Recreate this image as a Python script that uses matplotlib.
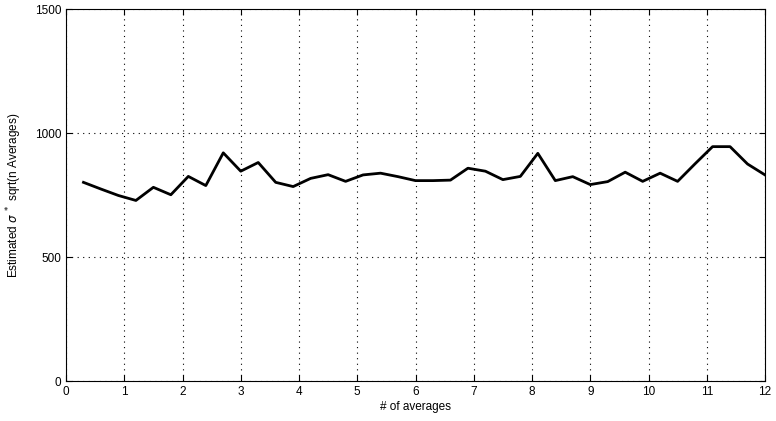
import numpy as np
import matplotlib
matplotlib.use("Agg")
import matplotlib.pyplot as plt

plt.rcParams['font.family'] = ['Liberation Sans', 'DejaVu Sans']

n_avg = [0.3, 0.6, 0.9, 1.2, 1.5, 1.8, 2.1, 2.4, 2.7, 3.0,
         3.3, 3.6, 3.9, 4.2, 4.5, 4.8, 5.1, 5.4, 5.7, 6.0,
         6.3, 6.6, 6.9, 7.2, 7.5, 7.8, 8.1, 8.4, 8.7, 9.0,
         9.3, 9.6, 9.9, 10.2, 10.5, 10.8, 11.1, 11.4, 11.7, 12.0]
sigma_est = [801, 774, 748, 728, 781, 751, 825, 788, 920, 846,
             881, 801, 784, 817, 832, 805, 831, 838, 824, 808,
             808, 810, 858, 846, 812, 825, 918, 808, 824, 792,
             804, 842, 805, 838, 805, 876, 945, 945, 875, 831]

xticks = list(range(0, 13))
yticks = [0, 500, 1000, 1500]

fig = plt.figure(figsize=(7.76, 4.21), dpi=100)
ax = fig.add_axes([66/776, 40/421, 699/776, 372/421])
ax.plot(n_avg, sigma_est, color='black', linewidth=2.0)
ax.set_xlim(0, 12)
ax.set_ylim(0, 1500)
ax.set_xticks(xticks)
ax.set_yticks(yticks)
ax.grid(True, linestyle=(0, (1, 4)), color='black', linewidth=0.8)
ax.tick_params(direction='in', top=True, right=True, labelsize=8.5, length=4)
for s in ax.spines.values():
    s.set_linewidth(0.8)
ax.set_xlabel('# of averages', fontsize=8.5, labelpad=2)
ax.set_ylabel(r'Estimated $\sigma$ $^*$ sqrt(n Averages)', fontsize=8.5, labelpad=8)
fig.savefig('out.png', dpi=100)
